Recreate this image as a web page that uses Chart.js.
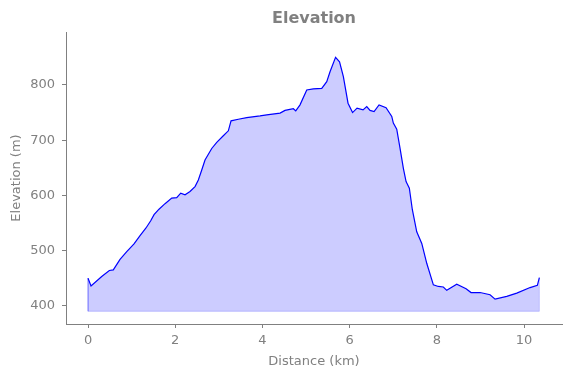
<!DOCTYPE html>
<html>
<head>
<meta charset="utf-8">
<script src="https://cdn.jsdelivr.net/npm/chart.js@4"></script>
<style>
  body { margin: 0; background: #fff; }
  #wrap { width: 571px; height: 378px; }
</style>
</head>
<body>
<div id="wrap"><canvas id="GraficoElevacion"></canvas></div>
<script>
// datos del perfil (km, m)
var distancia = [0, 0.069, 0.314, 0.489, 0.580, 0.734, 0.888, 1.055, 1.193, 1.330, 1.438, 1.514, 1.628, 1.766, 1.920, 2.034,
  2.126, 2.225, 2.339, 2.454, 2.530, 2.608, 2.683, 2.837, 2.952, 3.103, 3.218, 3.280, 3.447, 3.640, 3.945, 4.099, 4.404,
  4.518, 4.709, 4.764, 4.862, 5.016, 5.167, 5.360, 5.475, 5.550, 5.677, 5.768, 5.856, 5.963, 6.067, 6.170, 6.307, 6.392,
  6.468, 6.560, 6.674, 6.835, 6.966, 7.002, 7.080, 7.156, 7.232, 7.294, 7.369, 7.438, 7.539, 7.654, 7.768, 7.920, 8.034,
  8.149, 8.227, 8.456, 8.670, 8.784, 8.991, 9.220, 9.335, 9.603, 9.833, 10.138, 10.305, 10.351];
var elevacion = [450, 436, 453, 464, 465, 484, 498, 512, 527, 541, 554, 565, 575, 585, 595, 596,
  604, 601, 607, 616, 628, 646, 664, 685, 696, 708, 717, 735, 738, 741, 744, 746, 749,
  754, 757, 753, 764, 791, 793, 794, 806, 824, 850, 842, 815, 767, 750, 758, 755, 761,
  754, 752, 764, 759, 743, 731, 720, 685, 649, 625, 613, 574, 534, 513, 477, 438, 435,
  434, 428, 439, 431, 424, 424, 420, 412, 417, 423, 433, 437, 451];
var base = 390;
var ticksX = [0, 2, 4, 6, 8, 10];
var ticksY = [400, 500, 600, 700, 800];

var gris = '#808080';
var fuente = 'DejaVu Sans';

var puntos = distancia.map(function (d, i) { return { x: d, y: elevacion[i] }; });
var n = distancia.length - 1;
var contorno = [
  { x: distancia[0], y: elevacion[0] },
  { x: distancia[0], y: base },
  { x: distancia[n], y: base },
  { x: distancia[n], y: elevacion[n] }
];

// titulo centrado sobre el area del grafico
var tituloPlugin = {
  id: 'tituloArea',
  afterDraw: function (chart) {
    var c = chart.ctx, a = chart.chartArea;
    c.save();
    c.font = 'bold 16px "' + fuente + '"';
    c.fillStyle = gris;
    c.textAlign = 'center';
    c.textBaseline = 'middle';
    c.fillText('Elevation', (a.left + a.right) / 2, 19);
    c.restore();
  }
};

var ctx = document.getElementById('GraficoElevacion').getContext('2d');
var GraficoElevacion = new Chart(ctx, {
  type: 'line',
  data: {
    datasets: [{
      label: 'Elevation',
      data: puntos,
      borderColor: 'rgb(0, 0, 255)',
      borderWidth: 1.2,
      backgroundColor: 'rgba(0, 0, 255, 0.2)',
      fill: { value: base },
      pointRadius: 0,
      tension: 0
    }, {
      label: 'contorno',
      data: contorno,
      borderColor: 'rgba(0, 0, 255, 0.2)',
      borderWidth: 1,
      fill: false,
      pointRadius: 0
    }]
  },
  options: {
    responsive: true,
    maintainAspectRatio: false,
    animation: false,
    layout: { padding: { top: 32, right: 9, left: 0, bottom: 0 } },
    plugins: { legend: { display: false }, tooltip: { enabled: false } },
    scales: {
      x: {
        type: 'linear',
        min: -0.505,
        max: 10.87,
        afterBuildTicks: function (s) { s.ticks = ticksX.map(function (v) { return { value: v }; }); },
        afterFit: function (s) { s.height = 54; },
        grid: { drawOnChartArea: false, drawTicks: true, tickLength: 4, color: gris },
        border: { display: true, color: gris, width: 1 },
        ticks: { color: gris, font: { family: fuente, size: 13 }, padding: 5, maxRotation: 0 },
        title: { display: true, text: 'Distance (km)', color: gris, font: { family: fuente, size: 13 }, padding: { top: 0, bottom: 9 } }
      },
      y: {
        min: 367,
        max: 896,
        afterBuildTicks: function (s) { s.ticks = ticksY.map(function (v) { return { value: v }; }); },
        afterFit: function (s) { s.width = 66; },
        grid: { drawOnChartArea: false, drawTicks: true, tickLength: 4, color: gris },
        border: { display: true, color: gris, width: 1 },
        ticks: { color: gris, font: { family: fuente, size: 13 }, padding: 7 },
        title: { display: true, text: 'Elevation (m)', color: gris, font: { family: fuente, size: 13 }, padding: { top: 9, bottom: 0 } }
      }
    }
  },
  plugins: [tituloPlugin]
});
</script>
</body>
</html>
